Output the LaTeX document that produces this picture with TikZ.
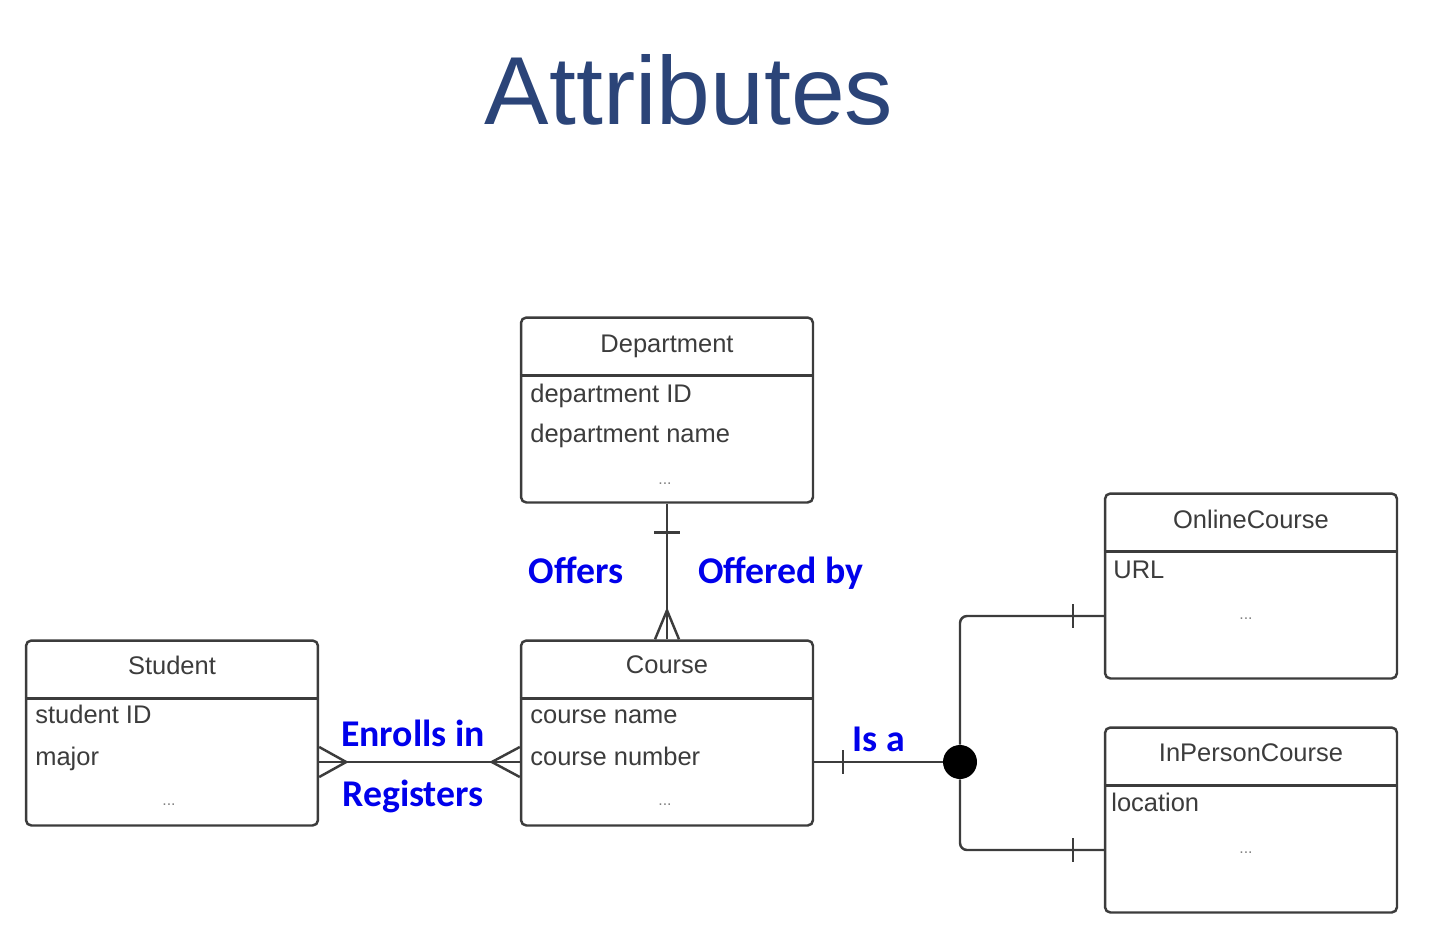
\documentclass[tikz,border=0pt]{standalone}
\usepackage{fontspec}
\setmainfont{Liberation Sans}
\newfontfamily\labelfont{Carlito}
\usepackage{xcolor}
\usepackage{tikz}
\usetikzlibrary{positioning, calc, arrows.meta}

\definecolor{titleblue}{RGB}{43,68,120}
\definecolor{relblue}{RGB}{0,0,235}
\definecolor{boxgray}{RGB}{60,60,60}

\begin{document}
\begin{tikzpicture}[x=0.02cm, y=-0.02cm,
    entity/.style={draw=boxgray, line width=1.4pt, rounded corners=3pt, minimum width=5.84cm, minimum height=3.7cm, inner sep=0pt},
    etitle/.style={anchor=base, inner sep=0pt, text=boxgray, font=\fontsize{14.5}{17}\selectfont},
    attr/.style={anchor=base west, inner sep=0pt, text=boxgray, font=\fontsize{14.5}{17}\selectfont},
    dots/.style={anchor=base, inner sep=0pt, text=gray, font=\fontsize{9}{10}\selectfont},
    rel/.style={anchor=base, inner sep=0pt, text=relblue, font=\labelfont\bfseries\fontsize{21.5}{24}\selectfont},
    link/.style={draw=boxgray, line width=1.4pt}]
  \useasboundingbox (0,0) rectangle (1432,950);

  \node[anchor=base, inner sep=0pt, text=titleblue, font=\fontsize{55}{60}\selectfont] (title) at (689,124) {Attributes};

  % entities
  \node[entity] (dept) at (667,410) {};
  \node[entity] (student) at (172,733) {};
  \node[entity] (course) at (667,733) {};
  \node[entity] (online) at (1251,586) {};
  \node[entity] (inperson) at (1251,820) {};

  \foreach \e in {dept, student, course, online, inperson}
    \draw[link] ($(\e.north west)+(0,59)$) -- ($(\e.north east)+(0,59)$);

  \node[etitle] (dept-t) at (667,352) {Department};
  \node[attr] (dept-a1) at (530,402) {department ID};
  \node[attr] (dept-a2) at (530,442) {department name};
  \node[dots] (dept-d) at (665,484) {...};

  \node[etitle] (student-t) at (172,674) {Student};
  \node[attr] (student-a1) at (35,723) {student ID};
  \node[attr] (student-a2) at (35,765) {major};
  \node[dots] (student-d) at (169,805) {...};

  \node[etitle] (course-t) at (667,673) {Course};
  \node[attr] (course-a1) at (530,723) {course name};
  \node[attr] (course-a2) at (530,765) {course number};
  \node[dots] (course-d) at (665,805) {...};

  \node[etitle] (online-t) at (1251,528) {OnlineCourse};
  \node[attr] (online-a1) at (1113,578) {URL};
  \node[dots] (online-d) at (1246,619) {...};

  \node[etitle] (inperson-t) at (1251,761) {InPersonCourse};
  \node[attr] (inperson-a1) at (1111,811) {location};
  \node[dots] (inperson-d) at (1246,853) {...};

  % department - course
  \draw[link] (dept.south) -- (course.north);
  \draw[link] ($(dept.south)+(-13,29)$) -- ($(dept.south)+(13,29)$);
  \draw[link] ($(course.north)+(-12,0)$) -- ($(course.north)+(0,-29)$) -- ($(course.north)+(12,0)$);

  % student - course
  \draw[link] ($(student.east)+(0,29)$) -- ($(course.west)+(0,29)$);
  \draw[link] ($(student.east)+(0,14)$) -- ($(student.east)+(27,29)$) -- ($(student.east)+(0,44)$);
  \draw[link] ($(course.west)+(0,14)$) -- ($(course.west)+(-28,29)$) -- ($(course.west)+(0,44)$);

  % is a
  \node[circle, fill=black, minimum size=0.68cm, inner sep=0pt] (isa) at (960,762) {};
  \draw[link] ($(course.east)+(0,29)$) -- (isa);
  \draw[link] ($(course.east)+(29,17)$) -- ($(course.east)+(29,41)$);
  \draw[link, rounded corners=4pt] (isa) |- ($(online.west)+(0,30)$);
  \draw[link] ($(online.west)+(-31,18)$) -- ($(online.west)+(-31,42)$);
  \draw[link, rounded corners=4pt] (isa) |- ($(inperson.west)+(0,30)$);
  \draw[link] ($(inperson.west)+(-31,18)$) -- ($(inperson.west)+(-31,42)$);

  % relationship labels
  \node[rel] (offers) at (576,583) {Offers};
  \node[rel] (offeredby) at (781,583) {Offered by};
  \node[rel] (enrolls) at (413,746) {Enrolls in};
  \node[rel] (registers) at (413,806) {Registers};
  \node[rel] (isa-l) at (879,751) {Is a};
\end{tikzpicture}
\end{document}
